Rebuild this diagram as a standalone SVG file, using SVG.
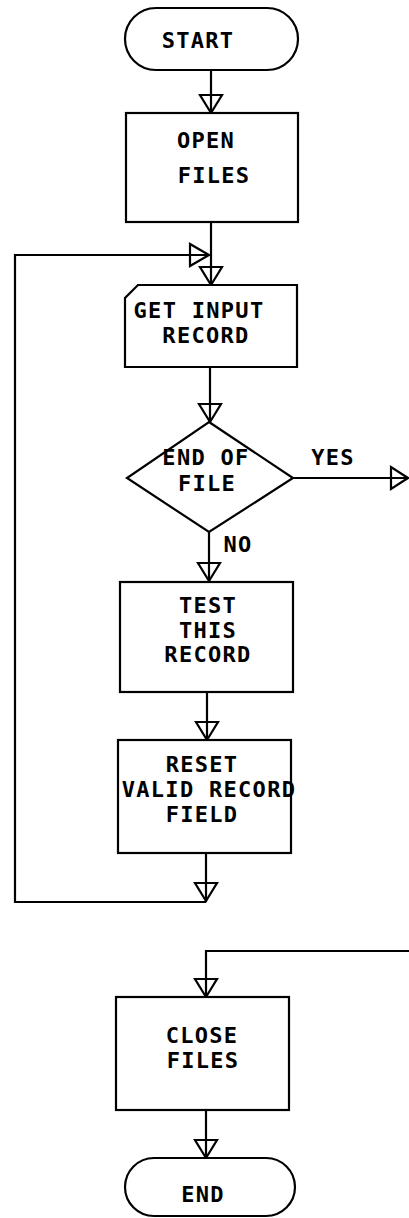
<svg xmlns="http://www.w3.org/2000/svg" width="409" height="1218" viewBox="0 0 409 1218">
  <style>
    .shape { fill: #fff; stroke: #000; stroke-width: 2.2; }
    .wire { fill: none; stroke: #000; stroke-width: 2.2; }
    .head { fill: none; stroke: #000; stroke-width: 2.2; stroke-linejoin: miter; }
    text { font-family: "DejaVu Sans Mono", "Liberation Mono", monospace; font-size: 22px; font-weight: bold; letter-spacing: 1.3px; text-anchor: middle; fill: #000; }
  </style>
  <rect width="409" height="1218" fill="#fff"/>

  <g id="connectors">
    <!-- START -> OPEN FILES -->
    <line class="wire" x1="211" y1="70" x2="211" y2="113"/>
    <path class="head" d="M200 95 L222 95 L211 113 Z"/>
    <!-- OPEN FILES -> GET INPUT RECORD -->
    <line class="wire" x1="211" y1="222" x2="211" y2="285"/>
    <path class="head" d="M200 267 L222 267 L211 285 Z"/>
    <!-- loop back from RESET -->
    <polyline class="wire" points="206,902 15,902 15,255 209,255"/>
    <path class="head" d="M190 244 L190 266 L209 255 Z"/>
    <!-- GET INPUT RECORD -> END OF FILE -->
    <line class="wire" x1="210" y1="367" x2="210" y2="422"/>
    <path class="head" d="M199 404 L221 404 L210 422 Z"/>
    <!-- YES branch -->
    <line class="wire" x1="293" y1="478" x2="408" y2="478"/>
    <path class="head" d="M391 467 L391 489 L408 478 Z"/>
    <!-- NO branch -->
    <line class="wire" x1="209" y1="532" x2="209" y2="582"/>
    <path class="head" d="M198 563 L220 563 L209 581 Z"/>
    <!-- TEST -> RESET -->
    <line class="wire" x1="207" y1="692" x2="207" y2="740"/>
    <path class="head" d="M196 722 L218 722 L207 740 Z"/>
    <!-- RESET -> loop -->
    <line class="wire" x1="206" y1="853" x2="206" y2="902"/>
    <path class="head" d="M195 883 L217 883 L206 901 Z"/>
    <!-- incoming to CLOSE FILES -->
    <polyline class="wire" points="409,951 206,951 206,997"/>
    <path class="head" d="M195 979 L217 979 L206 997 Z"/>
    <!-- CLOSE FILES -> END -->
    <line class="wire" x1="206" y1="1110" x2="206" y2="1158"/>
    <path class="head" d="M195 1140 L217 1140 L206 1158 Z"/>
  </g>

  <g id="start">
    <rect class="shape" x="125" y="8" width="173" height="62" rx="31" ry="31"/>
    <text x="198" y="48">START</text>
  </g>

  <g id="open-files">
    <rect class="shape" x="126" y="113" width="172" height="109"/>
    <text x="206" y="148">OPEN</text>
    <text x="214" y="183">FILES</text>
  </g>

  <g id="get-input-record">
    <path class="shape" d="M138 285 L297 285 L297 367 L125 367 L125 298 Z"/>
    <text x="199" y="318">GET INPUT</text>
    <text x="206" y="343">RECORD</text>
  </g>

  <g id="end-of-file">
    <path class="shape" d="M209 422 L293 478 L209 532 L127 478 Z"/>
    <text x="206" y="465">END OF</text>
    <text x="207" y="491">FILE</text>
    <text x="333" y="465">YES</text>
    <text x="238" y="552">NO</text>
  </g>

  <g id="test-record">
    <rect class="shape" x="120" y="582" width="173" height="110"/>
    <text x="208" y="613">TEST</text>
    <text x="208" y="638">THIS</text>
    <text x="208" y="662">RECORD</text>
  </g>

  <g id="reset-field">
    <rect class="shape" x="118" y="740" width="173" height="113"/>
    <text x="202" y="772">RESET</text>
    <text x="209" y="797">VALID RECORD</text>
    <text x="202" y="822">FIELD</text>
  </g>

  <g id="close-files">
    <rect class="shape" x="116" y="997" width="173" height="113"/>
    <text x="202" y="1043">CLOSE</text>
    <text x="203" y="1068">FILES</text>
  </g>

  <g id="end">
    <rect class="shape" x="125" y="1158" width="170" height="58" rx="29" ry="29"/>
    <text x="203" y="1202">END</text>
  </g>
</svg>
